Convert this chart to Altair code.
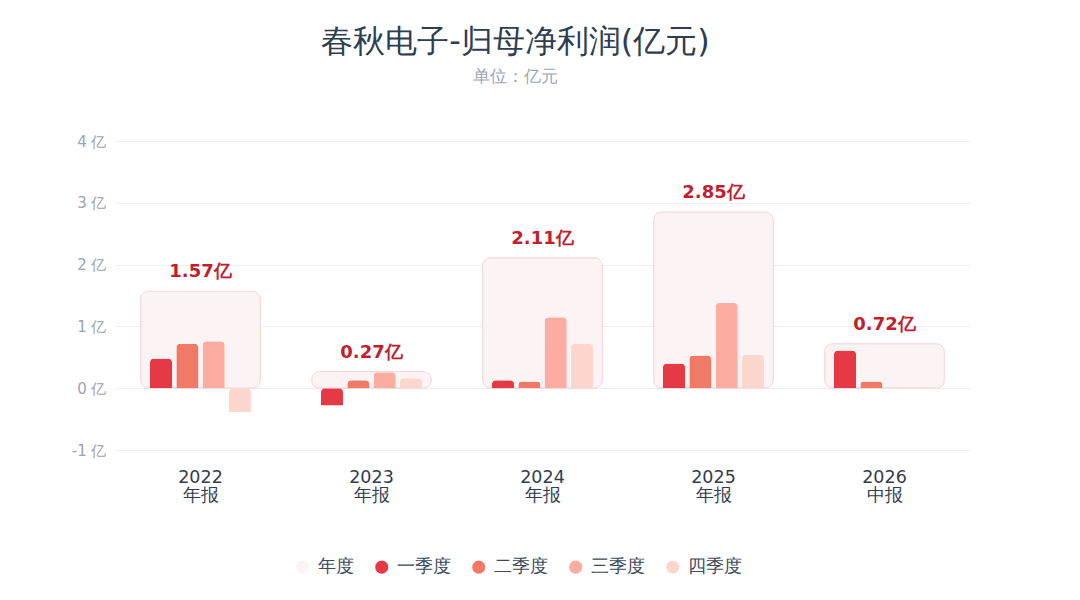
import altair as alt
import pandas as pd

years = ["2022|年报", "2023|年报", "2024|年报", "2025|年报", "2026|中报"]
annual = [1.57, 0.27, 2.11, 2.85, 0.72]
quarters = ["一季度", "二季度", "三季度", "四季度"]
q1 = [0.48, -0.28, 0.13, 0.40, 0.61]
q2 = [0.72, 0.13, 0.11, 0.53, 0.11]
q3 = [0.76, 0.26, 1.15, 1.38, None]
q4 = [-0.39, 0.16, 0.72, 0.54, None]

series = ["年度"] + quarters
colors = ["#fcf3f4", "#e63946", "#f07a66", "#fcaca0", "#fdd6cd"]

ann_df = pd.DataFrame({"year": years, "value": annual, "series": "年度",
                       "label": [f"{v:.2f}亿" for v in annual]})
rows = []
for qname, vals in zip(quarters, [q1, q2, q3, q4]):
    for y, v in zip(years, vals):
        if v is not None:
            rows.append({"year": y, "quarter": qname, "value": v, "series": qname})
q_df = pd.DataFrame(rows)

font = "DejaVu Sans"

x_enc = alt.X("year:N", sort=years,
              scale=alt.Scale(paddingInner=0.3, paddingOuter=0.15),
              axis=alt.Axis(title=None, labelExpr="split(datum.value, '|')",
                            labelAngle=0, labelFontSize=17.5, labelColor="#333d4d",
                            labelLineHeight=18, labelPadding=18, domain=False,
                            ticks=False, grid=False, labelFont=font))
y_enc = alt.Y("value:Q", scale=alt.Scale(domain=[-1, 4], nice=False),
              axis=alt.Axis(title=None, values=[-1, 0, 1, 2, 3, 4],
                            labelExpr="datum.value + ' 亿'", labelFontSize=15,
                            labelColor="#9aa5b8", labelPadding=9, domain=False,
                            ticks=False, grid=True, gridColor="#eceef3",
                            labelFont=font))
color_enc = alt.Color("series:N", scale=alt.Scale(domain=series, range=colors),
                      legend=alt.Legend(title=None, orient="none", direction="horizontal",
                                        legendX=179, legendY=417,
                                        symbolType="circle", symbolSize=170,
                                        symbolStrokeWidth=0,
                                        labelFontSize=17.5, labelColor="#3d4a5c",
                                        labelFont=font, columnPadding=19,
                                        labelOffset=6))

ann_bar = alt.Chart(ann_df).mark_bar(cornerRadius=8, stroke="#f6d6db",
                                     strokeWidth=1).encode(
    x=x_enc, y=y_enc, color=color_enc)

q_bar = alt.Chart(q_df).mark_bar(cornerRadiusTopLeft=4, cornerRadiusTopRight=4).encode(
    x=x_enc, y=y_enc, color=color_enc,
    xOffset=alt.XOffset("quarter:N", sort=quarters,
                        scale=alt.Scale(paddingInner=0.16, paddingOuter=0.355)))

labels = alt.Chart(ann_df).mark_text(baseline="bottom", dy=-10, fontSize=18,
                                     fontWeight="bold", color="#c41e2e",
                                     font=font).encode(
    x=alt.X("year:N", sort=years), y="value:Q", text="label:N")

chart = alt.layer(ann_bar, q_bar, labels).properties(
    width=855, height=309,
    autosize=alt.AutoSizeParams(type="none"),
    padding={"left": 107, "top": 133, "right": 100, "bottom": 140},
    background="white",
    title=alt.TitleParams(text="春秋电子-归母净利润(亿元)", subtitle="单位：亿元",
                          fontSize=32, fontWeight="normal", color="#2c3e50",
                          subtitleFontSize=17, subtitleColor="#9aa5b8",
                          subtitlePadding=10, font=font, subtitleFont=font,
                          anchor="middle", dx=-27, offset=48),
).configure_view(stroke=None)

chart.save("out.html", embed_options={"renderer": "svg", "actions": False})
